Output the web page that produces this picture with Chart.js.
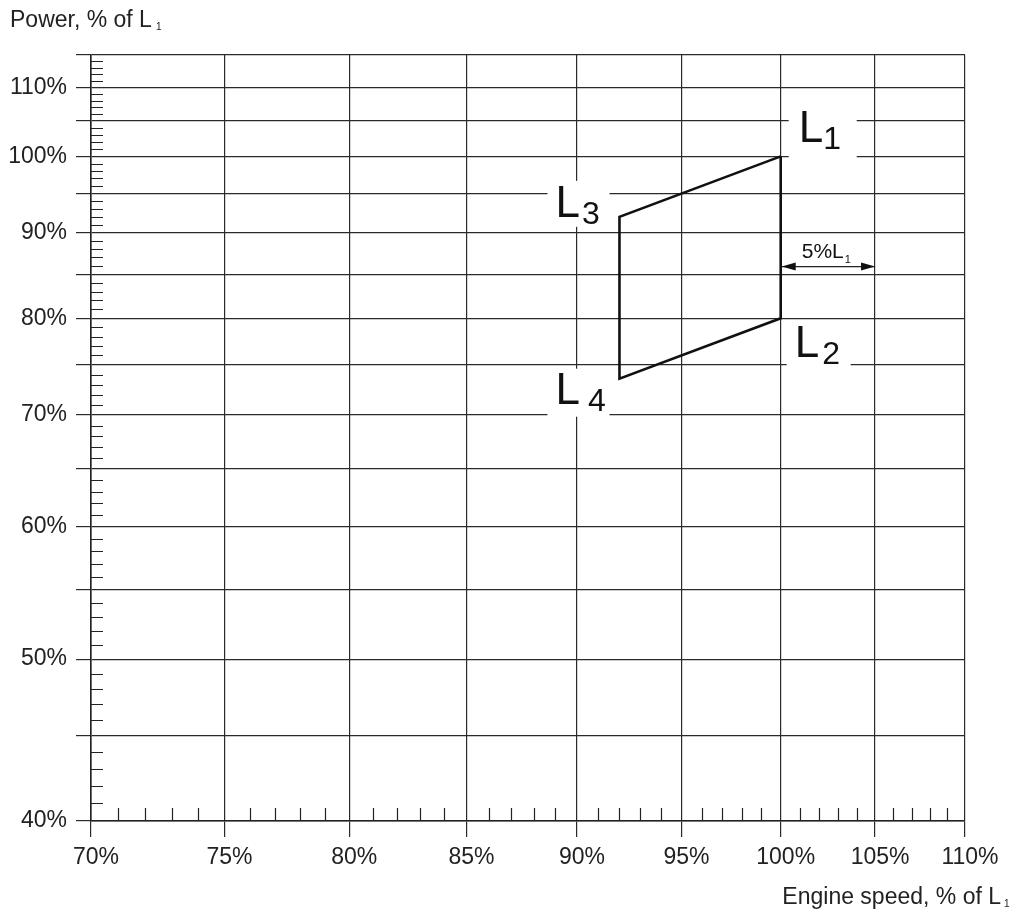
<!DOCTYPE html>
<html>
<head>
<meta charset="utf-8">
<script src="https://cdn.jsdelivr.net/npm/chart.js@4.4.0/dist/chart.umd.min.js"></script>
<style>
body { margin: 0; background: #fff; }
</style>
</head>
<body>
<canvas id="chart" width="1014" height="921"></canvas>
<script>
// axis ticks, % of L1
const speedTicks = [70, 75, 80, 85, 90, 95, 100, 105, 110]
const powerTicks = [40, 45, 50, 55, 60, 65, 70, 75, 80, 85, 90, 95, 100, 105, 110, 115]
const powerLabelled = [40, 50, 60, 70, 80, 90, 100, 110]

// layout area corners, drawn L1 -> L2 -> L4 -> L3 -> L1
const cornerNames = ["L1", "L2", "L4", "L3", "L1"]
const cornerSpeed = [100, 100, 92, 92, 100]
const cornerPower = [100, 80, 73.6, 92, 100]

// the 5% L1 dimension arrow
const arrowSpeed = [100, 105]
const arrowPower = 85.9

const FONT = "'Liberation Sans', Arial, Helvetica, sans-serif"
const INK = "#222"

function subText(ctx, main, sub, x, y, size, subSize, drop, gap) {
    ctx.font = size + "px " + FONT
    ctx.textAlign = "left"
    ctx.textBaseline = "alphabetic"
    ctx.fillText(main, x, y)
    const w = ctx.measureText(main).width
    ctx.font = subSize + "px " + FONT
    ctx.fillText(sub, x + w + gap, y + drop)
}

// where each corner label goes, offset in px from its corner
const labelSpots = {
    L1: {dx: 18, dy: -14, box: [8, -46, 68, 50], gap: 0},
    L2: {dx: 14, dy: 39, box: [6, 4, 64, 50], gap: 3},
    L3: {dx: -64, dy: 0, box: [-72, -36, 62, 46], gap: 2},
    L4: {dx: -64, dy: 25, box: [-72, -10, 62, 48], gap: 8}
}

const overlay = {
    id: "overlay",
    beforeDatasetsDraw(chart) {
        const ctx = chart.ctx
        const xs = chart.scales.x, ys = chart.scales.y
        ctx.save()
        ctx.fillStyle = "#fff"
        for (let i = 0; i < 4; i++) {
            const s = labelSpots[cornerNames[i]]
            const px = xs.getPixelForValue(cornerSpeed[i])
            const py = ys.getPixelForValue(cornerPower[i])
            ctx.fillRect(px + s.box[0], py + s.box[1], s.box[2], s.box[3])
        }
        ctx.restore()
    },
    afterDatasetsDraw(chart) {
        const ctx = chart.ctx
        const xs = chart.scales.x, ys = chart.scales.y
        const a = chart.chartArea
        ctx.save()
        ctx.fillStyle = INK
        ctx.strokeStyle = INK

        // minor ticks, every 1%
        ctx.lineWidth = 1.2
        ctx.beginPath()
        for (let v = speedTicks[0] + 1; v < speedTicks[speedTicks.length - 1]; v++) {
            if (v % 5 === 0) continue
            const x = Math.round(xs.getPixelForValue(v)) + 0.5
            ctx.moveTo(x, a.bottom)
            ctx.lineTo(x, a.bottom - 13)
        }
        for (let v = powerTicks[0] + 1; v < powerTicks[powerTicks.length - 1]; v++) {
            if (v % 5 === 0) continue
            const y = Math.round(ys.getPixelForValue(v)) + 0.5
            ctx.moveTo(a.left, y)
            ctx.lineTo(a.left + 12, y)
        }
        ctx.stroke()

        // corner labels
        ctx.fillStyle = "#111"
        for (let i = 0; i < 4; i++) {
            const name = cornerNames[i]
            const s = labelSpots[name]
            const px = xs.getPixelForValue(cornerSpeed[i])
            const py = ys.getPixelForValue(cornerPower[i])
            subText(ctx, "L", name.slice(1), px + s.dx, py + s.dy, 44, 32, 7, s.gap)
        }

        // 5% L1 arrow
        const x1 = xs.getPixelForValue(arrowSpeed[0]) + 1
        const x2 = xs.getPixelForValue(arrowSpeed[1])
        const ay = ys.getPixelForValue(arrowPower)
        ctx.lineWidth = 1.3
        ctx.beginPath()
        ctx.moveTo(x1, ay)
        ctx.lineTo(x2, ay)
        ctx.stroke()
        ctx.beginPath()
        ctx.moveTo(x1, ay); ctx.lineTo(x1 + 14, ay - 4); ctx.lineTo(x1 + 14, ay + 4); ctx.closePath()
        ctx.moveTo(x2, ay); ctx.lineTo(x2 - 14, ay - 4); ctx.lineTo(x2 - 14, ay + 4); ctx.closePath()
        ctx.fill()
        subText(ctx, "5%L", "1", x1 + 20, ay - 9, 21, 11, 5, 1)

        // axis titles
        ctx.fillStyle = INK
        subText(ctx, "Power, % of L", "1", 10, 27, 23, 10, 3, 4)
        ctx.font = "23px " + FONT
        const t = "Engine speed, % of L"
        const tw = ctx.measureText(t).width
        subText(ctx, t, "1", 1001 - tw, 904, 23, 10, 3, 3)
        ctx.restore()
    }
}

new Chart("chart", {
    type: "scatter",
    data: {
        datasets: [{
            data: cornerSpeed.map((s, i) => ({x: s, y: cornerPower[i]})),
            showLine: true,
            borderColor: "#111",
            borderWidth: 2.6,
            pointRadius: 0,
            tension: 0
        }]
    },
    options: {
        responsive: false,
        animation: false,
        devicePixelRatio: 1,
        layout: {padding: {top: 55, right: 49, left: 0, bottom: 0}},
        plugins: {legend: {display: false}, tooltip: {enabled: false}},
        scales: {
            x: {
                type: "logarithmic",
                min: speedTicks[0],
                max: speedTicks[speedTicks.length - 1],
                afterBuildTicks: s => { s.ticks = speedTicks.map(v => ({value: v})) },
                afterFit: s => { s.height = 100 },
                grid: {color: "#2a2a2a", lineWidth: 1.2, tickLength: 16},
                border: {color: INK, width: 1.6},
                ticks: {
                    callback: v => v + "%",
                    font: {family: FONT, size: 23},
                    color: INK,
                    padding: 7,
                    labelOffset: 5,
                    maxRotation: 0,
                    autoSkip: false
                }
            },
            y: {
                type: "logarithmic",
                min: powerTicks[0],
                max: powerTicks[powerTicks.length - 1],
                afterBuildTicks: s => { s.ticks = powerTicks.map(v => ({value: v})) },
                afterFit: s => { s.width = 91 },
                grid: {color: "#2a2a2a", lineWidth: 1.2, tickLength: 15},
                border: {color: INK, width: 1.6},
                ticks: {
                    callback: v => powerLabelled.includes(v) ? v + "%" : "",
                    font: {family: FONT, size: 23},
                    color: INK,
                    padding: 9,
                    autoSkip: false
                }
            }
        }
    },
    plugins: [overlay]
})
</script>
</body>
</html>
